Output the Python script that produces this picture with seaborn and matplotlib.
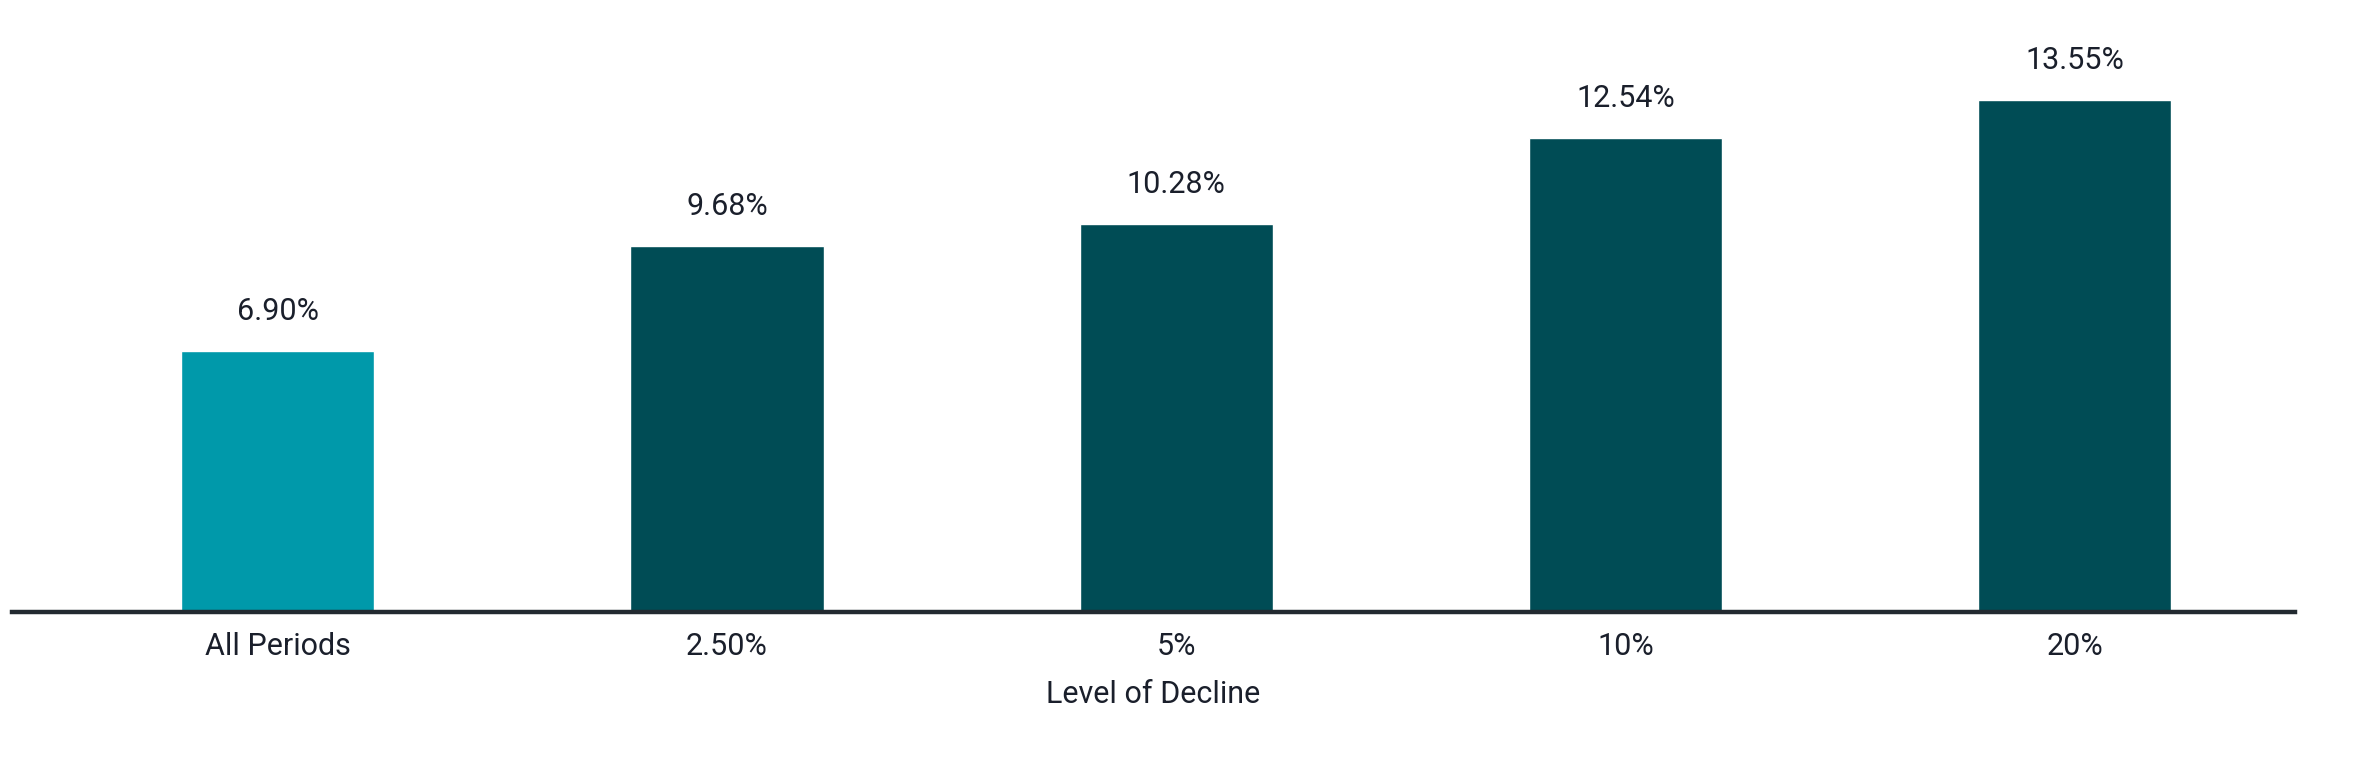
import matplotlib
matplotlib.use("Agg")
from matplotlib import pyplot as plt
import seaborn as sns
import pandas as pd

categories = ["All Periods", "2.50%", "5%", "10%", "20%"]
values = [6.90, 9.68, 10.28, 12.54, 13.55]
colors = ["#0099aa", "#004c55", "#004c55", "#004c55", "#004c55"]

df = pd.DataFrame({"cat": categories, "val": values})

sns.set_style("white")
plt.rcParams["font.family"] = ["Roboto", "DejaVu Sans"]

fig = plt.figure(figsize=(23.55, 7.7), dpi=100)
ax = fig.add_axes([0.005, 0.205, 0.9695, 0.795])
sns.barplot(data=df, x="cat", y="val", hue="cat", palette=colors,
            width=0.43, legend=False, ax=ax, saturation=1)

for c in ax.containers:
    ax.bar_label(c, labels=[f"{v:.2f}%" for v in c.datavalues],
                 padding=18, fontsize=22, color="#1a1f2b")

ax.set_xlim(-0.592, 4.49)
ax.set_ylim(0, 16.2)
ax.set_yticks([])
for s in ["top", "right", "left"]:
    ax.spines[s].set_visible(False)
ax.spines["bottom"].set_color("#222a30")
ax.spines["bottom"].set_linewidth(3.2)
ax.tick_params(axis="x", length=0, pad=14, labelsize=22, labelcolor="#1a1f2b")
ax.set_xlabel("Level of Decline", fontsize=22, color="#1a1f2b", labelpad=14)
ax.set_ylabel("")

fig.savefig("out.png", dpi=100)
